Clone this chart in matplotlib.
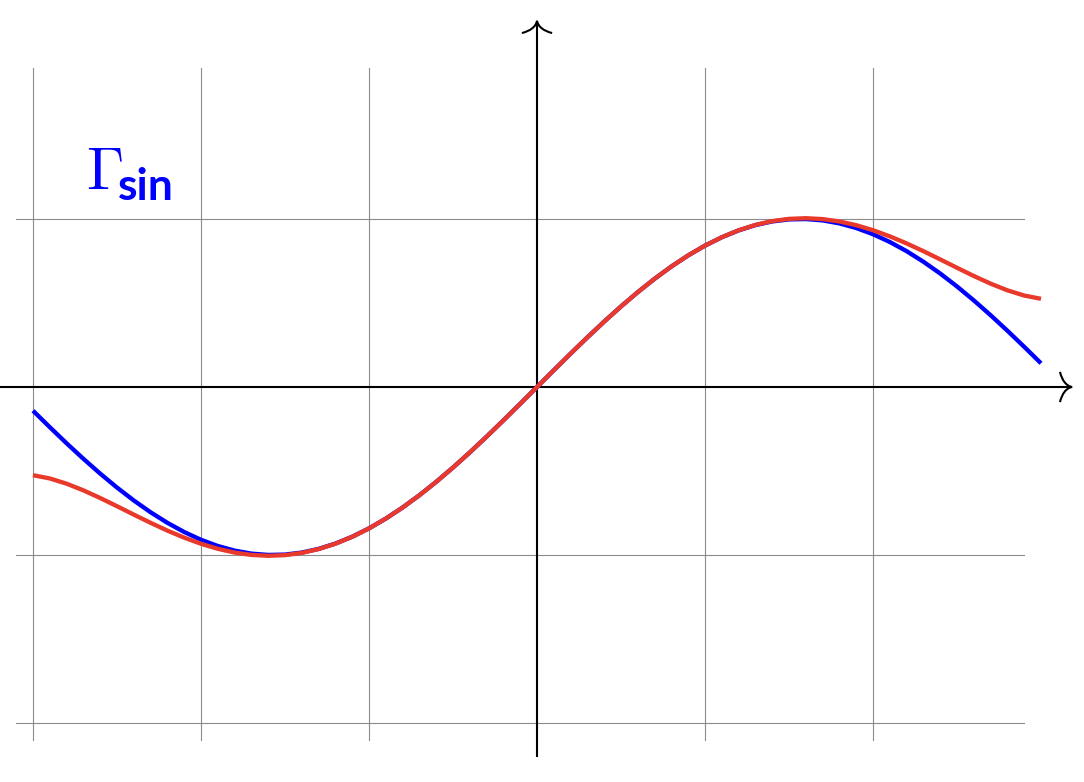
import numpy as np
import matplotlib
matplotlib.use("Agg")
import matplotlib.pyplot as plt
from matplotlib.path import Path
from matplotlib.patches import PathPatch

# sample points, step 0.1 from -3 to 3
x_pos = [0.0, 0.1, 0.2, 0.3, 0.4, 0.5, 0.6, 0.7, 0.8, 0.9, 1.0,
         1.1, 1.2, 1.3, 1.4, 1.5, 1.6, 1.7, 1.8, 1.9, 2.0,
         2.1, 2.2, 2.3, 2.4, 2.5, 2.6, 2.7, 2.8, 2.9, 3.0]
# blue curve (sin) for x >= 0
blue_pos = [0.0, 0.0998, 0.1987, 0.2955, 0.3894, 0.4794, 0.5646, 0.6442, 0.7174, 0.7833, 0.8415,
            0.8912, 0.9320, 0.9636, 0.9854, 0.9975, 0.9996, 0.9917, 0.9738, 0.9463, 0.9093,
            0.8632, 0.8085, 0.7457, 0.6755, 0.5985, 0.5155, 0.4274, 0.3350, 0.2392, 0.1411]
# red curve (approximation) for x >= 0
red_pos = [0.0, 0.0998, 0.1987, 0.2955, 0.3894, 0.4794, 0.5646, 0.6442, 0.7174, 0.7834, 0.8417,
           0.8916, 0.9327, 0.9648, 0.9875, 1.0008, 1.0047, 0.9995, 0.9855, 0.9632, 0.9333,
           0.8968, 0.8548, 0.8085, 0.7596, 0.7096, 0.6608, 0.6152, 0.5755, 0.5444, 0.5250]

# both curves are odd, so the negative side mirrors the positive one
xs = [-v for v in x_pos[:0:-1]] + x_pos
blue = [-v for v in blue_pos[:0:-1]] + blue_pos
red = [-v for v in red_pos[:0:-1]] + red_pos

grid_x = [-3, -2, -1, 1, 2]
grid_y = [-2, -1, 1]

fig = plt.figure(figsize=(10.84, 7.82), dpi=100)
ax = fig.add_axes([0, 0, 1, 1])
ax.set_xlim(-537 / 168, (1084 - 537) / 168)
ax.set_ylim(-(782 - 387) / 168, 387 / 168)
ax.axis("off")

# grid
for gx in grid_x:
    ax.plot([gx, gx], [-2.1, 1.9], color="#8c8c8c", lw=0.8, zorder=1)
for gy in grid_y:
    ax.plot([-3.1, 2.9], [gy, gy], color="#8c8c8c", lw=0.8, zorder=1)

# axes
ax.plot([-3.2, 3.17], [0, 0], color="black", lw=1.5, zorder=2, solid_capstyle="butt")
ax.plot([0, 0], [-2.2, 2.17], color="black", lw=1.5, zorder=2, solid_capstyle="butt")

# curved arrow tips
def tip(points):
    codes = [Path.MOVETO, Path.CURVE4, Path.CURVE4, Path.CURVE4,
             Path.CURVE4, Path.CURVE4, Path.CURVE4]
    ax.add_patch(PathPatch(Path(points, codes), fill=False, ec="black", lw=1.5, zorder=3))

tip([(3.113, 0.09), (3.125, 0.04), (3.15, 0.006), (3.185, 0),
     (3.15, -0.006), (3.125, -0.04), (3.113, -0.09)])
tip([(-0.09, 2.107), (-0.04, 2.119), (-0.006, 2.145), (0, 2.18),
     (0.006, 2.145), (0.04, 2.119), (0.09, 2.107)])

# curves
ax.plot(xs, blue, color="#0000ff", lw=3.1, zorder=4, solid_capstyle="butt")
ax.plot(xs, red, color="#e8392b", lw=3.1, zorder=5, solid_capstyle="butt")

# label: roman Gamma with bold sans subscript
plt.rcParams["mathtext.fontset"] = "cm"
ax.text(-2.685, 1.179, r"$\Gamma$", color="#0000ff", fontsize=43,
        ha="left", va="baseline")
ax.text(-2.497, 1.113, "sin", color="#0000ff", fontsize=32, family="Lato",
        fontweight="bold", ha="left", va="baseline")

plt.savefig("out.png", dpi=100)
